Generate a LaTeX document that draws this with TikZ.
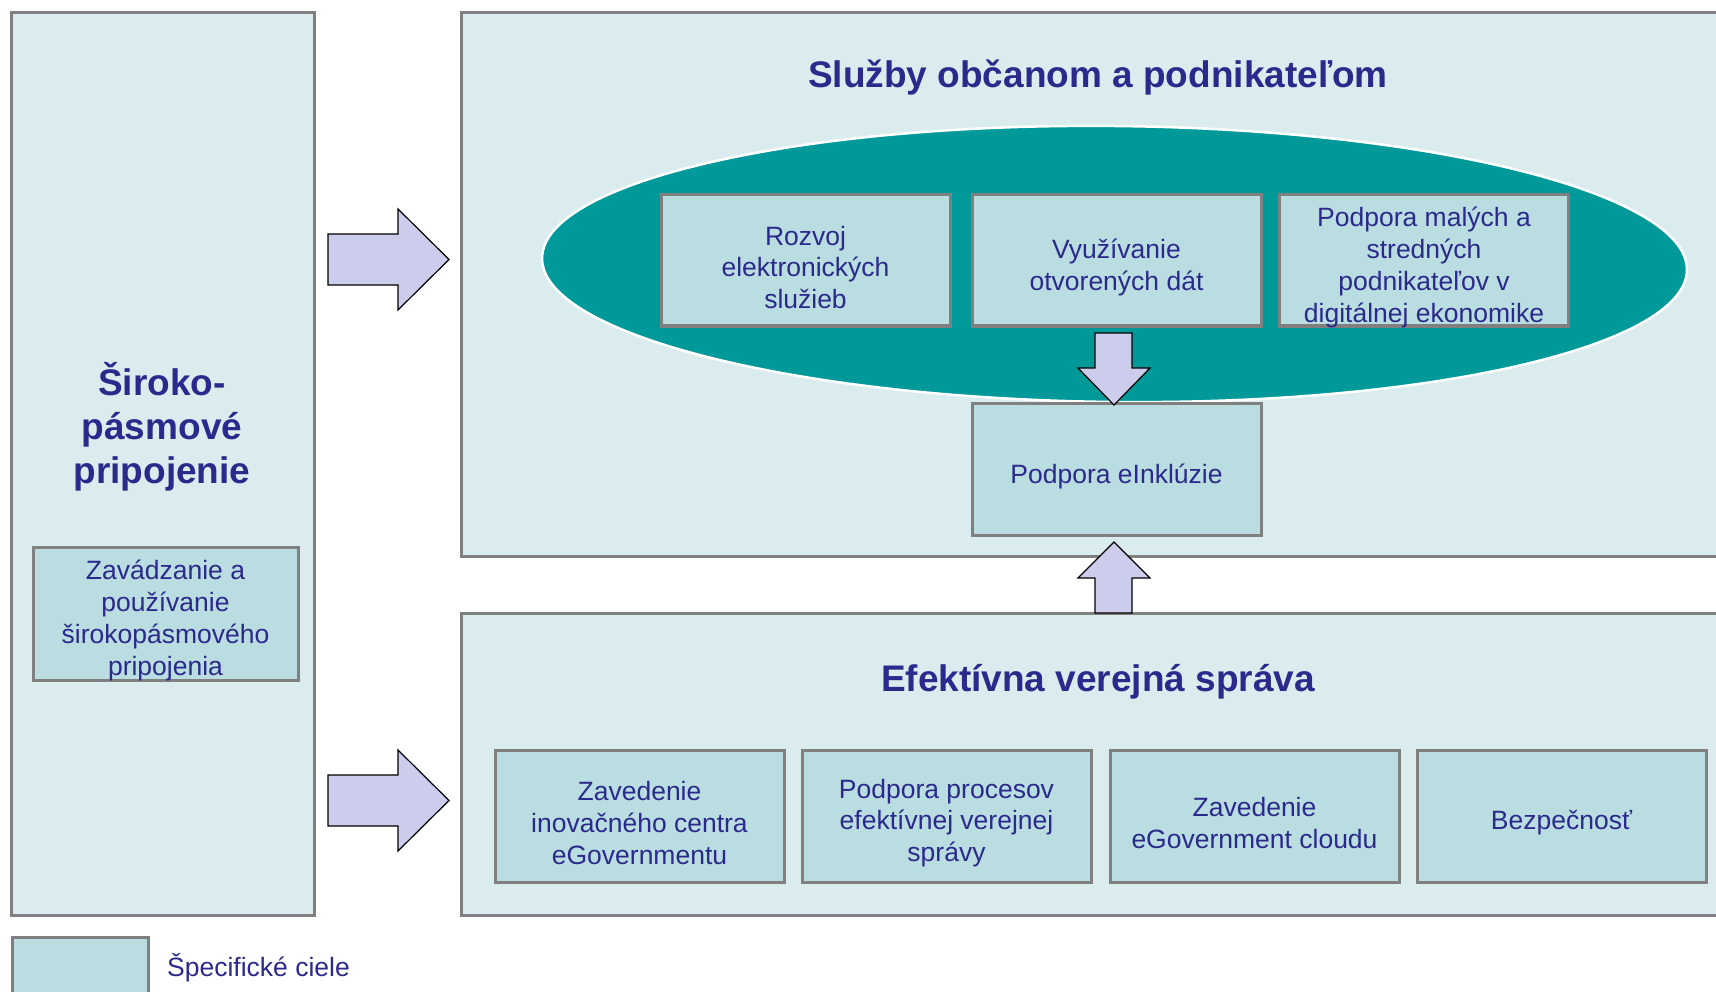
\documentclass[tikz,border=0pt]{standalone}
\usepackage{fontspec}
\setmainfont{Liberation Sans}
\usetikzlibrary{shapes.geometric}
\definecolor{txt}{RGB}{43,42,140}
\definecolor{panelfill}{RGB}{218,236,238}
\definecolor{boxfill}{RGB}{185,221,224}
\definecolor{bord}{RGB}{128,128,128}
\definecolor{tealx}{RGB}{0,153,153}
\definecolor{arrfill}{RGB}{204,204,236}
\begin{document}
\begin{tikzpicture}[x=1pt,y=-1pt,
 panel/.style={draw=bord, line width=3pt, fill=panelfill},
 goal/.style={draw=bord, line width=3pt, fill=boxfill, inner sep=0pt},
 gtext/.style={text=txt, align=center, font=\fontsize{26.5}{31.7}\selectfont, inner sep=0pt, yshift=-7pt},
 bigtitle/.style={text=txt, font=\fontsize{37}{44}\selectfont\bfseries, align=center},
 blockarrow/.style={draw=black, line width=1.2pt, fill=arrfill, line join=miter}]
\useasboundingbox (0,0) rectangle (1716,992);
\clip (0,0) rectangle (1716,992);
% panels
\draw[panel] (11,13) rectangle (314,915);
\draw[panel] (461,13) rectangle (1740,556);
\draw[panel] (461,613) rectangle (1740,915);
% titles
\node[bigtitle] (t1) at (1098,77.5) {Služby občanom a podnikateľom};
\node[bigtitle] (t2) at (1098,681.5) {Efektívna verejná správa};
\node[bigtitle] (t3) at (162,427) {Široko-\\pásmové\\pripojenie};
% ellipse
\node[ellipse, draw=white, line width=2.5pt, fill=tealx, minimum width=1145, minimum height=276, inner sep=0pt, rotate=-0.6] (ell) at (1114.5,264) {};
% top goals
\node[goal, minimum width=289, minimum height=131] (rozvoj) at (805.5,260.5) {};
\node[gtext] at (rozvoj.center) {Rozvoj\\elektronických\\služieb};
\node[goal, minimum width=289, minimum height=131] (vyuz) at (1116.5,260.5) {};
\node[gtext] at (vyuz.center) {Využívanie\\otvorených dát};
\node[goal, minimum width=289, minimum height=131] (msp) at (1424,260.5) {};
\node[gtext] at (msp.center) {Podpora malých a\\stredných\\podnikateľov v\\digitálnej ekonomike};
\node[goal, minimum width=289, minimum height=132] (inkl) at (1116.5,469) {};
\node[gtext] at (inkl.center) {Podpora eInklúzie};
% bottom goals
\node[goal, minimum width=289, minimum height=132] (inov) at (639.5,816) {};
\node[gtext] at (inov.center) {Zavedenie\\inovačného centra\\eGovernmentu};
\node[goal, minimum width=289, minimum height=132] (proc) at (946.5,816) {};
\node[gtext] at (proc.center) {Podpora procesov\\efektívnej verejnej\\správy};
\node[goal, minimum width=289, minimum height=132] (cloud) at (1254.5,816) {};
\node[gtext] at (cloud.center) {Zavedenie\\eGovernment cloudu};
\node[goal, minimum width=289, minimum height=132] (bezp) at (1561.5,816) {};
\node[gtext] at (bezp.center) {Bezpečnosť};
% left goal
\node[goal, minimum width=265, minimum height=133] (broad) at (165.5,613.5) {};
\node[gtext] at (broad.center) {Zavádzanie a\\používanie\\širokopásmového\\pripojenia};
% legend
\node[goal, minimum width=136, minimum height=80, anchor=north west] (leg) at (11,936) {};
\node[anchor=west, text=txt, font=\fontsize{26.5}{31.7}\selectfont, inner sep=0pt] (legt) at (167,968) {Špecifické ciele};
% block arrows
\draw[blockarrow] (328,234) -- (398,234) -- (398,209) -- (449,259.5) -- (398,310) -- (398,285) -- (328,285) -- cycle;
\draw[blockarrow] (328,775) -- (398,775) -- (398,750) -- (449,800.5) -- (398,851) -- (398,826) -- (328,826) -- cycle;
\draw[blockarrow] (1095,333) -- (1132,333) -- (1132,368) -- (1150,368) -- (1114,405) -- (1078,368) -- (1095,368) -- cycle;
\draw[blockarrow] (1095,613) -- (1095,578) -- (1078,578) -- (1114,542) -- (1150,578) -- (1132,578) -- (1132,613) -- cycle;
\end{tikzpicture}
\end{document}
